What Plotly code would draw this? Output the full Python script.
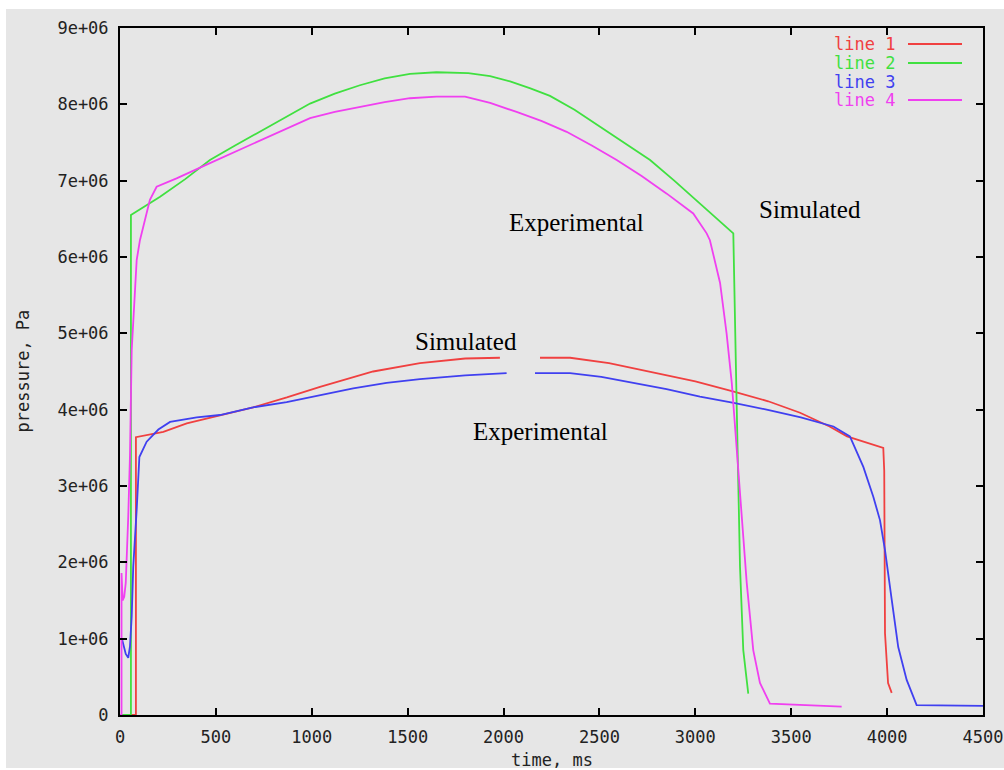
import plotly.graph_objects as go

# ---- data (time in ms, pressure in Pa) ----
red_t = [0, 83, 83, 150, 226, 348, 520, 694, 870, 1043, 1320, 1564, 1800, 1981, None, 2190, 2347, 2550, 2764, 3000, 3196, 3380, 3546, 3700, 3791, 3980, 3985, 3989, 4005, 4024]
red_p = [0, 0, 3.64e6, 3.67e6, 3.71e6, 3.82e6, 3.92e6, 4.03e6, 4.16e6, 4.30e6, 4.50e6, 4.61e6, 4.67e6, 4.68e6, None, 4.68e6, 4.68e6, 4.61e6, 4.50e6, 4.37e6, 4.24e6, 4.11e6, 3.96e6, 3.78e6, 3.65e6, 3.50e6, 3.20e6, 1.07e6, 0.42e6, 0.29e6]

green_t = [0, 57, 57, 209, 340, 469, 600, 730, 860, 991, 1120, 1251, 1380, 1512, 1650, 1816, 1930, 2034, 2140, 2242, 2370, 2503, 2630, 2764, 2890, 3024, 3198, 3215, 3233, 3250, 3276]
green_p = [0, 0, 6.55e6, 6.79e6, 7.02e6, 7.27e6, 7.46e6, 7.64e6, 7.83e6, 8.01e6, 8.14e6, 8.25e6, 8.34e6, 8.40e6, 8.42e6, 8.41e6, 8.37e6, 8.30e6, 8.21e6, 8.11e6, 7.93e6, 7.71e6, 7.50e6, 7.27e6, 7.00e6, 6.70e6, 6.31e6, 4.13e6, 1.94e6, 0.85e6, 0.28e6]

blue_t = [10, 17, 30, 43, 52, 61, 69, 87, 101, 139, 200, 261, 400, 521, 694, 869, 1040, 1216, 1390, 1564, 1800, 2016, None, 2164, 2347, 2510, 2677, 2850, 3024, 3200, 3372, 3550, 3720, 3789, 3806, 3876, 3928, 3963, 3989, 4024, 4058, 4102, 4154, 4500]
blue_p = [1.0e6, 0.94e6, 0.80e6, 0.75e6, 0.90e6, 1.29e6, 1.94e6, 2.69e6, 3.38e6, 3.58e6, 3.74e6, 3.84e6, 3.90e6, 3.93e6, 4.03e6, 4.10e6, 4.19e6, 4.28e6, 4.35e6, 4.40e6, 4.45e6, 4.48e6, None, 4.48e6, 4.48e6, 4.43e6, 4.35e6, 4.27e6, 4.17e6, 4.09e6, 4.00e6, 3.90e6, 3.78e6, 3.67e6, 3.65e6, 3.25e6, 2.86e6, 2.55e6, 2.16e6, 1.51e6, 0.89e6, 0.46e6, 0.13e6, 0.12e6]

mag_t = [0, 8, 8, 14, 22, 30, 43, 52, 61, 87, 104, 122, 156, 191, 295, 469, 600, 730, 860, 991, 1120, 1251, 1380, 1512, 1650, 1799, 1930, 2068, 2200, 2329, 2460, 2590, 2720, 2851, 2989, 3059, 3076, 3129, 3163, 3190, 3216, 3242, 3268, 3302, 3337, 3389, 3763]
mag_p = [0, 0, 1.86e6, 1.50e6, 1.55e6, 1.73e6, 2.60e6, 3.40e6, 4.78e6, 5.96e6, 6.22e6, 6.40e6, 6.75e6, 6.92e6, 7.03e6, 7.23e6, 7.38e6, 7.53e6, 7.68e6, 7.82e6, 7.90e6, 7.97e6, 8.03e6, 8.08e6, 8.10e6, 8.10e6, 8.02e6, 7.90e6, 7.78e6, 7.64e6, 7.46e6, 7.27e6, 7.06e6, 6.83e6, 6.57e6, 6.31e6, 6.22e6, 5.66e6, 5.00e6, 4.35e6, 3.47e6, 2.60e6, 1.73e6, 0.85e6, 0.42e6, 0.15e6, 0.11e6]

series_names = ["line 1", "line 2", "line 3", "line 4"]
series_colors = ["#f04040", "#40e040", "#4040f0", "#f040f0"]

x_ticks = [0, 500, 1000, 1500, 2000, 2500, 3000, 3500, 4000, 4500]
x_ticklabels = ["0", "500", "1000", "1500", "2000", "2500", "3000", "3500", "4000", "4500"]
y_ticks = [0, 1e6, 2e6, 3e6, 4e6, 5e6, 6e6, 7e6, 8e6, 9e6]
y_ticklabels = ["0", "1e+06", "2e+06", "3e+06", "4e+06", "5e+06", "6e+06", "7e+06", "8e+06", "9e+06"]

notes = [("Experimental", 2378, 6.45e6), ("Simulated", 3598, 6.62e6),
         ("Simulated", 1804, 4.89e6), ("Experimental", 2195, 3.72e6)]

W, H = 1004, 770
L, R, T, B = 120, 21, 28, 55
pw, ph = W - L - R, H - T - B

def px(x):
    return (x - L) / pw

def py(y):
    return (H - B - y) / ph

BG = "#e6e6e6"
MONO = "DejaVu Sans Mono"

fig = go.Figure()
data = [(red_t, red_p), (green_t, green_p), (blue_t, blue_p), (mag_t, mag_p)]
for (t, p), name, col in zip(data, series_names, series_colors):
    fig.add_trace(go.Scatter(x=t, y=p, mode="lines", name=name,
                             line=dict(color=col, width=1.8), connectgaps=False))

annotations = []
for txt, x, y in notes:
    annotations.append(dict(x=x, y=y, xref="x", yref="y", text=txt, showarrow=False,
                            font=dict(family="Liberation Serif", size=25, color="#000000")))

# legend (text left, sample right)
leg_rows = [44, 63, 82, 100]
shapes = [dict(type="rect", xref="paper", yref="paper", x0=px(6), x1=px(1010),
               y0=py(768), y1=py(9), fillcolor=BG, line=dict(width=0), layer="below")]
for i, (name, col, row) in enumerate(zip(series_names, series_colors, leg_rows)):
    annotations.append(dict(x=px(897), y=py(row), xref="paper", yref="paper", text=name,
                            showarrow=False, xanchor="right", yanchor="middle",
                            font=dict(family=MONO, size=17, color=col)))
    if i != 2:
        shapes.append(dict(type="line", xref="paper", yref="paper", x0=px(908), x1=px(962),
                           y0=py(row), y1=py(row), line=dict(color=col, width=1.8)))

# axis titles
annotations.append(dict(x=0.5, y=py(760), xref="paper", yref="paper", text="time, ms",
                        showarrow=False, xanchor="center", yanchor="middle",
                        font=dict(family=MONO, size=17, color="#222222")))
annotations.append(dict(x=px(22), y=0.5, xref="paper", yref="paper", text="pressure, Pa",
                        showarrow=False, xanchor="center", yanchor="middle", textangle=-90,
                        font=dict(family=MONO, size=17, color="#222222")))

axis_common = dict(showline=True, linecolor="#000000", linewidth=2, mirror="ticks",
                   ticks="inside", ticklen=7, tickwidth=2, tickcolor="#000000",
                   showgrid=False, zeroline=False, automargin=False,
                   tickfont=dict(family=MONO, size=17, color="#222222"))

fig.update_layout(
    width=W, height=H, margin=dict(l=L, r=R, t=T, b=B, autoexpand=False),
    paper_bgcolor="#ffffff", plot_bgcolor=BG, showlegend=False,
    xaxis=dict(range=[0, 4500], tickvals=x_ticks, ticktext=x_ticklabels,
               ticklabelstandoff=6, **axis_common),
    yaxis=dict(range=[0, 9e6], tickvals=y_ticks, ticktext=y_ticklabels,
               ticklabelstandoff=6, **axis_common),
    annotations=annotations, shapes=shapes,
)

fig.write_html("out.html")
